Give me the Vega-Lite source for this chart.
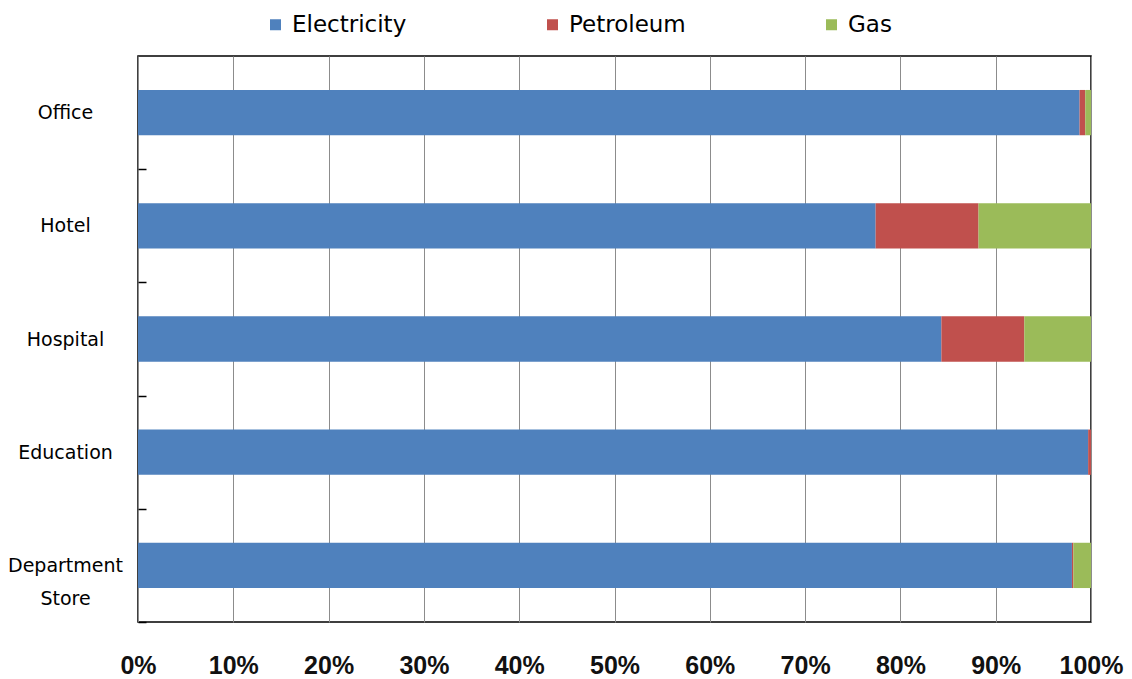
{
  "$schema": "https://vega.github.io/schema/vega-lite/v6.json",
  "width": 953,
  "height": 566,
  "autosize": "none",
  "padding": {"left": 138, "top": 56, "right": 41, "bottom": 57},
  "background": "white",
  "config": {
    "view": {"stroke": "#000000", "strokeWidth": 1.5},
    "font": "DejaVu Sans"
  },
  "data": {
    "values": [
      {"building": "Office", "source": "Electricity", "order": 1, "share": 98.8},
      {"building": "Office", "source": "Petroleum", "order": 2, "share": 0.6},
      {"building": "Office", "source": "Gas", "order": 3, "share": 0.6},
      {"building": "Hotel", "source": "Electricity", "order": 1, "share": 77.4},
      {"building": "Hotel", "source": "Petroleum", "order": 2, "share": 10.8},
      {"building": "Hotel", "source": "Gas", "order": 3, "share": 11.8},
      {"building": "Hospital", "source": "Electricity", "order": 1, "share": 84.3},
      {"building": "Hospital", "source": "Petroleum", "order": 2, "share": 8.7},
      {"building": "Hospital", "source": "Gas", "order": 3, "share": 7.0},
      {"building": "Education", "source": "Electricity", "order": 1, "share": 99.7},
      {"building": "Education", "source": "Petroleum", "order": 2, "share": 0.3},
      {"building": "Education", "source": "Gas", "order": 3, "share": 0.0},
      {"building": "Department Store", "source": "Electricity", "order": 1, "share": 98.0},
      {"building": "Department Store", "source": "Petroleum", "order": 2, "share": 0.15},
      {"building": "Department Store", "source": "Gas", "order": 3, "share": 1.85}
    ]
  },
  "mark": {"type": "bar"},
  "encoding": {
    "y": {
      "field": "building",
      "type": "nominal",
      "sort": ["Office", "Hotel", "Hospital", "Education", "Department Store"],
      "scale": {"paddingInner": 0.6, "paddingOuter": 0.3},
      "axis": {
        "title": null,
        "domain": false,
        "ticks": true,
        "tickBand": "center",
        "tickOffset": 56.6,
        "tickSize": -8,
        "tickColor": "#000000",
        "tickWidth": 1.5,
        "labelAlign": "center",
        "labelBaseline": "middle",
        "labelPadding": 81,
        "labelFont": "DejaVu Sans",
        "labelFontSize": 19,
        "labelColor": "#000000",
        "labelLineHeight": 33,
        "labelOffset": -56.6,
        "labelExpr": "datum.value == 'Department Store' ? ['Department', 'Store'] : datum.value"
      }
    },
    "x": {
      "field": "share",
      "type": "quantitative",
      "stack": "normalize",
      "scale": {"domain": [0, 1]},
      "axis": {
        "title": null,
        "format": ".0%",
        "values": [0, 0.1, 0.2, 0.3, 0.4, 0.5, 0.6, 0.7, 0.8, 0.9, 1],
        "domain": false,
        "ticks": false,
        "grid": true,
        "gridColor": "#8c8c8c",
        "gridWidth": 1,
        "gridOpacity": 1,
        "labelOverlap": false,
        "labelFont": "Liberation Sans",
        "labelFontWeight": "bold",
        "labelFontSize": 25,
        "labelColor": "#111111",
        "labelBaseline": "top",
        "labelPadding": 31,
        "labelFlush": false
      }
    },
    "color": {
      "field": "source",
      "type": "nominal",
      "scale": {
        "domain": ["Electricity", "Petroleum", "Gas"],
        "range": ["#4F81BD", "#C0504D", "#9BBB59"]
      },
      "legend": {
        "title": null,
        "orient": "none",
        "direction": "horizontal",
        "legendX": 126,
        "legendY": -43,
        "padding": 0,
        "symbolType": "square",
        "symbolSize": 121,
        "symbolStrokeWidth": 0,
        "labelOffset": 5,
        "labelFont": "DejaVu Sans",
        "labelFontSize": 23,
        "labelColor": "#000000",
        "columnPadding": 134
      }
    },
    "order": {"field": "order", "type": "quantitative"}
  }
}
